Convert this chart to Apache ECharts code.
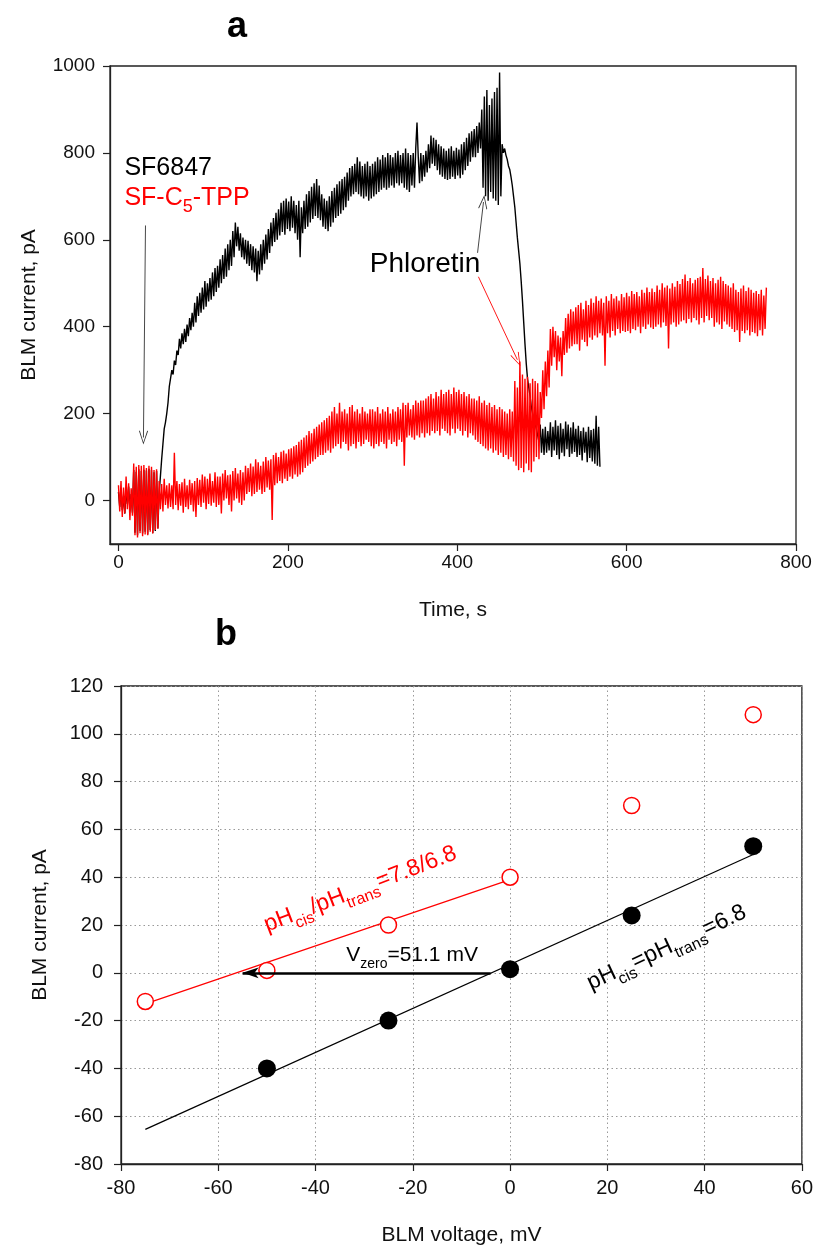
<!DOCTYPE html>
<html><head><meta charset="utf-8">
<script src="https://cdn.jsdelivr.net/npm/echarts@6/dist/echarts.min.js"></script>
<style>html,body{margin:0;padding:0;background:#fff}#c{width:816px;height:1247px}</style>
</head><body><div id="c"></div>
<script>
// ---------- Panel a: BLM current traces (one sample every 1.5 s) ----------
const timeStep = 1.5;
const sf6847 = [
 20,-15,28,-22,10,-30,25,-8,32,-20,15,-28,70,-74,66,-80,72,-70,68,-76,
 71,-72,69,-78,73,-68,70,-75,65,-70,68,-64,15,55,95,130,165,180,200,225,
 262,258,300,290,322,312,345,335,372,350,385,360,395,365,405,378,420,392,432,400,
 455,410,470,425,478,432,490,440,505,446,500,458,512,462,525,470,535,480,540,490,
 555,500,565,510,580,515,590,530,600,540,620,560,640,585,630,575,615,560,605,555,
 600,545,598,540,590,530,585,525,580,505,575,520,590,530,600,545,612,555,625,570,
 640,585,650,595,662,600,670,610,685,618,690,612,695,625,688,620,700,628,690,615,
 680,600,690,560,675,615,690,625,705,630,712,640,722,648,730,655,740,650,725,645,
 705,630,695,625,690,620,700,630,712,640,720,650,728,655,735,660,740,668,745,675,
 755,690,765,700,770,705,775,710,790,705,780,700,770,695,775,700,780,690,770,695,
 775,700,780,705,790,710,785,715,795,720,790,715,800,720,795,725,790,720,800,730,
 805,725,795,730,800,720,810,715,800,710,795,725,800,720,810,870,790,730,800,735,
 795,745,805,755,820,765,840,775,835,770,830,760,820,750,815,745,810,740,805,738,
 810,740,815,745,805,740,812,748,808,742,820,750,825,760,835,770,845,780,850,790,
 855,790,862,800,870,810,900,720,930,700,945,690,910,710,925,695,940,690,950,680,
 985,700,820,800,810,795,785,770,762,745,725,700,675,640,605,575,545,505,460,410,
 360,315,280,260,240,215,200,185,175,165,150,135,175,110,165,105,170,110,160,115,
 180,100,170,115,185,105,172,95,178,110,165,102,182,118,175,100,168,108,180,112,
 165,100,172,105,160,92,168,110,158,88,170,98,162,90,165,85,195,80,170,78
];
const sfC5TPP = [
 35,-25,45,-38,30,-30,55,-20,40,-45,28,-35,85,-80,78,-85,82,-75,80,-82,
 82,-78,75,-80,80,-72,78,-76,70,-68,72,-65,45,-20,38,-25,50,-10,35,-18,
 40,-15,35,-20,110,-10,45,-22,38,-12,42,-28,50,-15,35,-20,48,-10,40,-25,
 45,-38,52,-10,48,-15,60,-5,55,-20,50,-8,62,-12,45,-5,65,-15,55,-10,
 55,-30,62,0,70,5,58,-10,60,-25,68,0,75,5,62,-5,70,-10,65,0,
 80,15,75,20,85,10,78,15,95,20,88,25,80,15,90,20,100,30,92,25,
 95,-45,105,35,110,40,100,45,112,40,115,50,108,45,118,55,120,50,125,60,
 128,55,135,60,140,65,145,75,150,80,160,85,155,90,165,95,170,100,175,105,
 180,105,185,110,190,115,195,110,205,120,215,125,200,130,225,120,205,135,210,130,
 200,115,215,125,220,130,205,120,210,135,200,125,215,130,205,140,200,135,210,125,
 210,120,205,130,215,125,200,135,210,130,205,120,215,140,200,130,210,135,205,125,
 215,140,210,135,225,80,220,145,225,150,210,145,220,140,230,150,225,145,230,155,
 230,145,235,155,240,150,245,160,235,155,250,160,240,150,255,165,245,160,250,155,
 255,150,245,165,260,155,250,165,255,160,245,150,250,160,240,145,245,155,235,150,
 235,140,230,135,240,130,225,125,230,120,220,115,225,120,215,110,220,115,210,105,
 215,110,210,100,205,105,200,95,210,100,205,90,275,80,260,70,320,75,290,65,
 280,85,285,70,270,65,280,90,275,100,270,95,250,190,300,210,320,240,345,260,
 395,310,400,330,390,300,380,320,375,286,390,335,420,340,430,350,440,355,435,360,
 445,360,450,345,455,370,440,365,460,355,450,375,465,370,455,380,470,375,460,385,
 465,380,455,310,470,385,460,375,475,390,465,380,470,395,460,385,475,390,468,388,
 478,390,470,385,482,395,475,392,480,400,470,385,485,400,478,395,490,405,480,398,
 488,395,480,400,495,405,485,398,500,410,490,402,495,350,488,405,500,410,492,400,
 505,405,498,412,510,415,520,408,505,418,512,410,500,420,508,415,512,405,515,420,
 535,410,510,425,518,415,505,420,512,400,500,410,508,405,515,395,505,412,498,405,
 495,400,490,395,500,388,485,392,480,365,488,390,495,385,482,392,490,380,485,388,
 478,385,482,378,475,392,485,380,472,395,490
];
const timeTicks = [0, 200, 400, 600, 800];
const currentTicksA = [0, 200, 400, 600, 800, 1000];

// ---------- Panel b: I-V data ----------
const voltage = [-75, -50, -25, 0, 25, 50];
const currentEqual = [null, -40, -20, 1.5, 24, 53];     // pHcis = pHtrans = 6.8
const currentGradient = [-12, 1, 20, 40, 70, 108];      // pHcis/pHtrans = 7.8/6.8
const fitEqual = [[-75, -65.5], [50, 49.5]];
const fitGradient = [[-75, -13], [0, 39]];
const vZeroArrow = [[-4, 0], [-55, 0]];

const FONT = '"Liberation Sans", Arial, Helvetica, sans-serif';
const VHEAD = 'path://M0,0 L6,14 L5,14.6 L0,2.5 L-5,14.6 L-6,14 Z';

const toPairs = (vals) => vals.map((v, i) => [i * timeStep, v]);
const zipXY = (xs, ys) => xs.map((x, i) => [x, ys[i]]).filter(p => p[1] !== null);

const chart = echarts.init(document.getElementById('c'), null, {renderer: 'canvas'});
const axisCol = '#222';
function baseAxis(extra) {
  return Object.assign({
    type: 'value',
    axisLine: {show: true, onZero: false, lineStyle: {color: axisCol, width: 1.3}},
    axisTick: {show: true, inside: false, length: 7, lineStyle: {color: axisCol, width: 1.2}},
    axisLabel: {color: '#111', fontFamily: FONT},
    splitLine: {show: false},
    nameLocation: 'middle',
    nameTextStyle: {color: '#111', fontSize: 21, fontFamily: FONT}
  }, extra);
}
const plain = v => String(v);

const option = {
  animation: false,
  backgroundColor: '#fff',
  textStyle: {fontFamily: FONT},
  title: [
    {text: 'a', left: 222, top: 4, textStyle: {fontSize: 36, fontWeight: 'bold', color: '#000', fontFamily: FONT}},
    {text: 'b', left: 210, top: 612, textStyle: {fontSize: 36, fontWeight: 'bold', color: '#000', fontFamily: FONT}}
  ],
  grid: [
    {left: 110, right: 20, top: 66, height: 478, show: true, borderColor: axisCol, borderWidth: 1.3, backgroundColor: 'transparent'},
    {left: 121, right: 9, top: 686, height: 480, show: true, borderColor: axisCol, borderWidth: 1.3, backgroundColor: 'transparent'}
  ],
  xAxis: [
    baseAxis({gridIndex: 0, min: -10, max: 800,
      axisTick: {show: true, length: 7, customValues: timeTicks, lineStyle: {color: axisCol, width: 1.2}},
      axisLabel: {customValues: timeTicks, formatter: plain, fontSize: 19, color: '#111', margin: 9, fontFamily: FONT},
      name: 'Time, s', nameGap: 56}),
    baseAxis({gridIndex: 1, min: -80, max: 60, interval: 20,
      axisLabel: {fontSize: 20, color: '#111', margin: 14, fontFamily: FONT, formatter: plain},
      splitLine: {show: true, lineStyle: {type: [1.5, 3], color: '#999', width: 1}},
      name: 'BLM voltage, mV', nameGap: 61})
  ],
  yAxis: [
    baseAxis({gridIndex: 0, min: -100, max: 1000,
      axisTick: {show: true, length: 7, customValues: currentTicksA, lineStyle: {color: axisCol, width: 1.2}},
      axisLabel: {customValues: currentTicksA, formatter: plain, fontSize: 19, color: '#111', margin: 15, fontFamily: FONT},
      name: 'BLM current, pA', nameGap: 70}),
    baseAxis({gridIndex: 1, min: -80, max: 120, interval: 20,
      axisLabel: {fontSize: 20, color: '#111', margin: 18, fontFamily: FONT, formatter: plain},
      splitLine: {show: true, lineStyle: {type: [1.5, 3], color: '#999', width: 1}},
      name: 'BLM current, pA', nameGap: 70})
  ],
  series: [
    {
      name: 'SF6847', type: 'line', xAxisIndex: 0, yAxisIndex: 0,
      data: toPairs(sf6847), showSymbol: false,
      lineStyle: {color: '#000', width: 1.4}, z: 2,
      markLine: {
        silent: true, animation: false, symbol: ['none', VHEAD], symbolSize: [9, 14],
        label: {show: false},
        lineStyle: {color: '#333', width: 0.9, type: 'solid'},
        data: [
          [{coord: [31.9, 633]}, {coord: [29.5, 145]}],
          [{coord: [424, 570]}, {coord: [431, 687]}]
        ]
      }
    },
    {
      name: 'SF-C5-TPP', type: 'line', xAxisIndex: 0, yAxisIndex: 0,
      data: toPairs(sfC5TPP), showSymbol: false,
      lineStyle: {color: '#f00', width: 1.4}, z: 3,
      markLine: {
        silent: true, animation: false, symbol: ['none', VHEAD], symbolSize: [9, 14],
        label: {show: false},
        lineStyle: {color: '#f00', width: 0.9, type: 'solid'},
        data: [[{coord: [425, 515]}, {coord: [471, 324]}]]
      }
    },
    {
      name: 'fit equal', type: 'line', xAxisIndex: 1, yAxisIndex: 1,
      data: fitEqual, showSymbol: false, lineStyle: {color: '#000', width: 1.2}, z: 2,
      markLine: {
        silent: true, animation: false, symbol: ['none', 'arrow'], symbolSize: [8, 16],
        label: {show: false},
        lineStyle: {color: '#000', width: 2.6, type: 'solid'},
        data: [[{coord: vZeroArrow[0]}, {coord: vZeroArrow[1]}]]
      }
    },
    {
      name: 'fit gradient', type: 'line', xAxisIndex: 1, yAxisIndex: 1,
      data: fitGradient, showSymbol: false, lineStyle: {color: '#f00', width: 1.2}, z: 2
    },
    {
      name: 'pH equal', type: 'scatter', xAxisIndex: 1, yAxisIndex: 1,
      data: zipXY(voltage, currentEqual), symbol: 'circle', symbolSize: 18,
      itemStyle: {color: '#000', opacity: 1}, z: 4
    },
    {
      name: 'pH gradient', type: 'scatter', xAxisIndex: 1, yAxisIndex: 1,
      data: zipXY(voltage, currentGradient), symbol: 'circle', symbolSize: 16,
      itemStyle: {color: '#fff', borderColor: '#f00', borderWidth: 1.5, opacity: 1}, z: 4
    }
  ]
};
chart.setOption(option);

// ---------- text annotations anchored in data coordinates ----------
const notes = [
  {grid: 0, at: [7, 766], text: 'SF6847', color: '#000', size: 25, sub: 0.7, align: 'left', rot: 0},
  {grid: 0, at: [7, 697], text: 'SF-C{s|5}-TPP', color: '#f00', size: 25, sub: 0.7, align: 'left', rot: 0},
  {grid: 0, at: [362, 543], text: 'Phloretin', color: '#000', size: 28, sub: 0.7, align: 'center', rot: 0},
  {grid: 1, at: [-33.7, 7.5], text: 'V{s|zero}=51.1 mV', color: '#000', size: 21, sub: 0.68, align: 'left', rot: 0},
  {grid: 1, at: [-30.8, 35], text: 'pH{s|cis}/pH{s|trans}=7.8/6.8', color: '#f00', size: 23, sub: 0.68, align: 'center', rot: 21},
  {grid: 1, at: [32.2, 10.5], text: 'pH{s|cis}=pH{s|trans}=6.8', color: '#000', size: 23, sub: 0.68, align: 'center', rot: 25}
];
const graphics = notes.map(n => {
  const p = chart.convertToPixel({gridIndex: n.grid}, n.at);
  return {
    type: 'text', x: p[0], y: p[1], rotation: n.rot * Math.PI / 180, silent: true, z: 10,
    style: {
      text: n.text, fill: n.color, align: n.align, verticalAlign: 'middle',
      font: n.size + 'px ' + FONT, lineHeight: n.size + 12,
      rich: {
        s: {fontSize: Math.round(n.size * n.sub), fontFamily: FONT, fill: n.color, lineHeight: 4, verticalAlign: 'bottom'}
      }
    }
  };
});
chart.setOption({graphic: graphics});
</script>
</body></html>
